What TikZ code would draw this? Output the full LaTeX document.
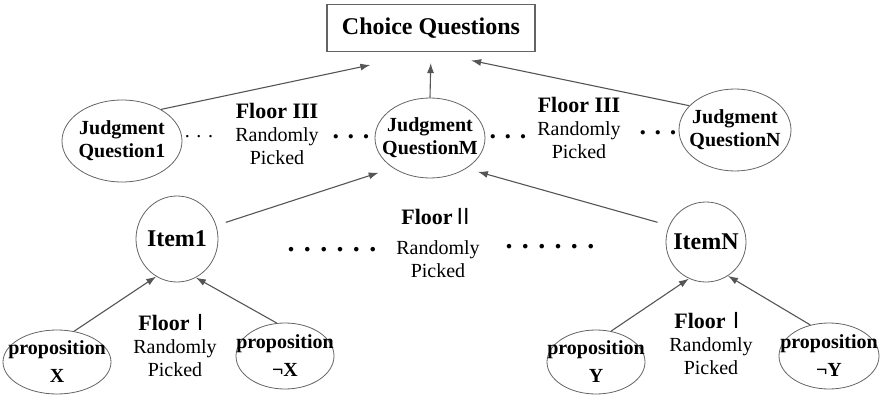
\documentclass[tikz,border=0pt]{standalone}
\usepackage{fontspec}
\setmainfont{Liberation Serif}
\newfontfamily\cjkfont{Noto Sans CJK SC}
\usetikzlibrary{shapes.geometric,arrows.meta}
\definecolor{edgegray}{RGB}{85,85,85}
\definecolor{rimgray}{RGB}{100,100,100}

\begin{document}
\begin{tikzpicture}[x=1pt,y=-1pt,
    oval/.style={ellipse,draw=rimgray,line width=0.8pt,inner xsep=-18pt,inner ysep=-8pt,
                 align=center,font=\bfseries\fontsize{20}{23}\selectfont},
    prop/.style={oval,font=\bfseries\fontsize{20}{28}\selectfont},
    item/.style={oval,font=\bfseries\fontsize{24}{24}\selectfont},
    lab/.style={align=center,font=\fontsize{20}{23}\selectfont},
    arr/.style={-{Latex[length=10pt,width=7pt]},color=edgegray,line width=1.1pt}]
   \useasboundingbox (0,0) rectangle (884,396);
   % top box
   \node[draw=rimgray,line width=1.2pt,minimum width=208pt,minimum height=47pt,
         font=\bfseries\fontsize{24}{24}\selectfont] (C) at (431,28) {Choice Questions};
   % floor III
   \node[oval,minimum width=120pt,minimum height=82pt] (J_1) at (122,141) {Judgment\\Question1};
   \node[oval,minimum width=110pt,minimum height=80pt] (J_M) at (430,138) {Judgment\\QuestionM};
   \node[oval,minimum width=112pt,minimum height=82pt] (J_N) at (735,130) {Judgment\\QuestionN};
   % floor II
   \node[item,minimum width=82pt,minimum height=86pt] (I_1) at (177,239) {Item1};
   \node[item,minimum width=80pt,minimum height=80pt] (I_N) at (706,242) {ItemN};
   % floor I
   \node[prop,minimum width=108pt,minimum height=64pt] (P_X) at (57,362) {proposition\\X};
   \node[prop,minimum width=98pt,minimum height=66pt] (P_nX) at (285,356) {proposition\\¬X};
   \node[prop,minimum width=98pt,minimum height=64pt] (P_Y) at (596,362) {proposition\\Y};
   \node[prop,minimum width=100pt,minimum height=66pt] (P_nY) at (829,356) {proposition\\¬Y};
   % labels
   \node[lab] (L_3a) at (277,134) {{\bfseries\fontsize{22}{23}\selectfont Floor III}\\Randomly\\Picked};
   \node[lab] (L_3b) at (579,128) {{\bfseries\fontsize{22}{23}\selectfont Floor III}\\Randomly\\Picked};
   \node[lab] (L_2) at (438,243) {{\bfseries\fontsize{22}{23}\selectfont Floor}{\cjkfont\fontsize{22}{23}\selectfont Ⅱ}\\[7pt]Randomly\\Picked};
   \node[lab] (L_1a) at (175,346) {{\bfseries\fontsize{22}{23}\selectfont Floor}{\cjkfont\fontsize{22}{23}\selectfont Ⅰ}\\Randomly\\Picked};
   \node[lab] (L_1b) at (711,344) {{\bfseries\fontsize{22}{23}\selectfont Floor}{\cjkfont\fontsize{22}{23}\selectfont Ⅰ}\\Randomly\\Picked};
   % dots
   \node[font=\fontsize{20}{20}\selectfont] (d_1) at (199,137) {. . .};
   \node[font=\bfseries\fontsize{26}{26}\selectfont] (d_2) at (351,137) {. . .};
   \node[font=\bfseries\fontsize{26}{26}\selectfont] (d_3) at (508,137) {. . .};
   \node[font=\bfseries\fontsize{26}{26}\selectfont] (d_4) at (658,133) {. . .};
   \node[font=\bfseries\fontsize{28}{28}\selectfont] (d_5) at (332,250) {. . . . . .};
   \node[font=\bfseries\fontsize{28}{28}\selectfont] (d_6) at (550,247) {. . . . . .};
    \path[arr]
    (J_1.39) edge[shorten >=62pt] (C.south)
    (J_M.north) edge[shorten >=11pt] (C.south)
    (J_N.152) edge[shorten >=41pt] (C.south)
    (I_1.19) edge[shorten <=10pt,shorten >=15pt] (J_M.219)
    (I_N.156) edge[shorten <=12pt,shorten >=12pt] (J_M.320)
    (P_X.61) edge (I_1.241)
    (P_nX.104) edge (I_1.296)
    (P_Y.64) edge (I_N.245)
    (P_nY.121) edge (I_N.303);
\end{tikzpicture}
\end{document}
